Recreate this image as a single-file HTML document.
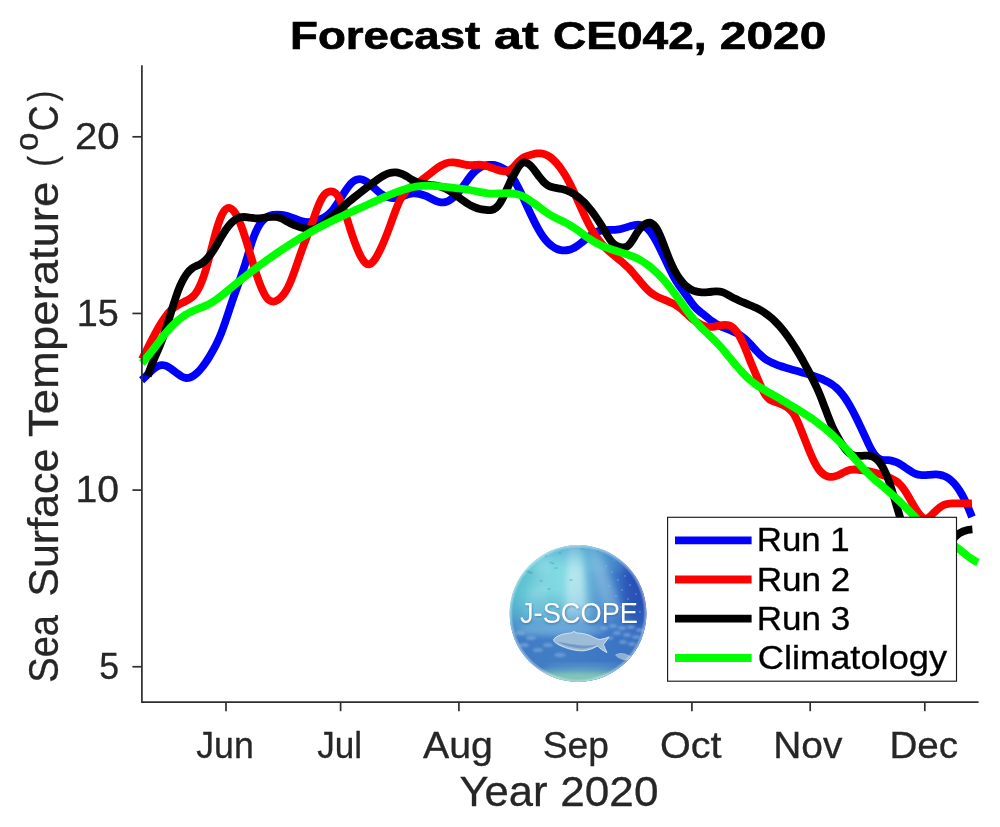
<!DOCTYPE html>
<html><head><meta charset="utf-8"><title>Forecast at CE042, 2020</title>
<style>
html,body{margin:0;padding:0;background:#fff;}
body{width:1000px;height:827px;overflow:hidden;}
svg{display:block;will-change:transform;}
text{font-family:"Liberation Sans",sans-serif;}
</style></head><body>
<svg width="1000" height="827" viewBox="0 0 1000 827">
<defs>
<clipPath id="lgclip"><circle cx="578" cy="613.5" r="68.4"/></clipPath>
<linearGradient id="lgbase" gradientUnits="userSpaceOnUse" x1="509" y1="600" x2="647" y2="600">
<stop offset="0" stop-color="#4fb6cc"/>
<stop offset="0.14" stop-color="#6ed0da"/>
<stop offset="0.36" stop-color="#82dbe2"/>
<stop offset="0.52" stop-color="#78c9de"/>
<stop offset="0.64" stop-color="#589cd2"/>
<stop offset="0.78" stop-color="#3b76c6"/>
<stop offset="0.9" stop-color="#2b58ba"/>
<stop offset="1" stop-color="#2549ae"/>
</linearGradient>
<linearGradient id="lgvert" gradientUnits="userSpaceOnUse" x1="578" y1="545" x2="578" y2="682">
<stop offset="0" stop-color="#3a90c8" stop-opacity="0.6"/>
<stop offset="0.1" stop-color="#52acd4" stop-opacity="0.3"/>
<stop offset="0.22" stop-color="#8fe0e8" stop-opacity="0"/>
<stop offset="0.42" stop-color="#5496d2" stop-opacity="0.15"/>
<stop offset="0.56" stop-color="#4684cc" stop-opacity="0.6"/>
<stop offset="0.68" stop-color="#3b74c4" stop-opacity="0.9"/>
<stop offset="0.88" stop-color="#3d76c2" stop-opacity="0.94"/>
<stop offset="1" stop-color="#4e8ebe" stop-opacity="0.95"/>
</linearGradient>
<linearGradient id="lgleft" gradientUnits="userSpaceOnUse" x1="509" y1="600" x2="600" y2="600">
<stop offset="0" stop-color="#7ad0e0" stop-opacity="0.45"/>
<stop offset="1" stop-color="#7ad0e0" stop-opacity="0"/>
</linearGradient>
<radialGradient id="lgedge" gradientUnits="userSpaceOnUse" cx="578" cy="613.5" r="68.4">
<stop offset="0.95" stop-color="#ffffff" stop-opacity="0"/>
<stop offset="1" stop-color="#ffffff" stop-opacity="0.5"/>
</radialGradient>
<filter id="lgblur3" x="-30%" y="-30%" width="160%" height="160%"><feGaussianBlur stdDeviation="3"/></filter>
<filter id="lgblur5" x="-30%" y="-30%" width="160%" height="160%"><feGaussianBlur stdDeviation="5"/></filter>
<filter id="lgblur1" x="-30%" y="-30%" width="160%" height="160%"><feGaussianBlur stdDeviation="0.8"/></filter>
<filter id="lgblur04" x="-10%" y="-10%" width="120%" height="120%"><feGaussianBlur stdDeviation="0.35"/></filter>
</defs>
<rect x="0" y="0" width="1000" height="827" fill="#ffffff"/>
<g fill="none" stroke-width="7.80" stroke-linecap="butt" stroke-linejoin="round">
<path stroke="#0000ff" d="M141.60,380.26C142.93,379.11 144.26,377.83 145.59,376.53C146.92,375.22 148.25,373.88 149.58,372.60C150.92,371.32 152.25,370.10 153.58,369.03C154.91,367.96 156.24,367.03 157.57,366.35C158.90,365.66 160.23,365.22 161.56,365.10C162.89,364.98 164.22,365.21 165.55,365.69C166.88,366.16 168.22,366.88 169.55,367.74C170.88,368.60 172.21,369.59 173.54,370.62C174.87,371.64 176.20,372.70 177.53,373.69C178.86,374.67 180.19,375.58 181.52,376.31C182.85,377.03 184.18,377.58 185.52,377.84C186.85,378.10 188.18,378.04 189.51,377.68C190.84,377.33 192.17,376.68 193.50,375.79C194.83,374.91 196.16,373.79 197.49,372.49C198.82,371.20 200.15,369.73 201.48,368.10C202.82,366.48 204.15,364.70 205.48,362.78C206.81,360.86 208.14,358.80 209.47,356.62C210.80,354.44 212.13,352.15 213.46,349.71C214.79,347.27 216.12,344.67 217.45,341.84C218.78,339.00 220.12,335.94 221.45,332.57C222.78,329.20 224.11,325.49 225.44,321.58C226.77,317.68 228.10,313.60 229.43,309.54C230.76,305.48 232.09,301.45 233.42,297.61C234.75,293.78 236.08,290.08 237.42,286.40C238.75,282.71 240.08,279.04 241.41,275.24C242.74,271.44 244.07,267.51 245.40,263.32C246.73,259.14 248.06,254.58 249.39,250.13C250.72,245.67 252.05,241.37 253.38,237.75C254.72,234.12 256.05,231.07 257.38,228.51C258.71,225.94 260.04,223.86 261.37,222.17C262.70,220.47 264.03,219.17 265.36,218.16C266.69,217.15 268.02,216.43 269.35,215.92C270.68,215.40 272.02,215.09 273.35,214.88C274.68,214.68 276.01,214.58 277.34,214.59C278.67,214.59 280.00,214.69 281.33,214.87C282.66,215.05 283.99,215.32 285.32,215.64C286.65,215.97 287.98,216.36 289.32,216.80C290.65,217.25 291.98,217.74 293.31,218.24C294.64,218.75 295.97,219.26 297.30,219.74C298.63,220.22 299.96,220.67 301.29,221.03C302.62,221.40 303.95,221.69 305.28,221.86C306.62,222.03 307.95,222.07 309.28,222.00C310.61,221.93 311.94,221.74 313.27,221.47C314.60,221.19 315.93,220.83 317.26,220.39C318.59,219.95 319.92,219.46 321.25,218.85C322.58,218.25 323.92,217.55 325.25,216.69C326.58,215.83 327.91,214.82 329.24,213.61C330.57,212.39 331.90,210.98 333.23,209.32C334.56,207.66 335.89,205.76 337.22,203.74C338.55,201.72 339.88,199.58 341.22,197.44C342.55,195.31 343.88,193.17 345.21,191.16C346.54,189.15 347.87,187.26 349.20,185.61C350.53,183.96 351.86,182.56 353.19,181.52C354.52,180.47 355.85,179.79 357.18,179.42C358.52,179.05 359.85,179.01 361.18,179.25C362.51,179.49 363.84,180.03 365.17,180.78C366.50,181.52 367.83,182.48 369.16,183.55C370.49,184.62 371.82,185.80 373.15,187.01C374.48,188.22 375.82,189.45 377.15,190.62C378.48,191.78 379.81,192.88 381.14,193.82C382.47,194.76 383.80,195.53 385.13,196.16C386.46,196.78 387.79,197.25 389.12,197.57C390.45,197.90 391.78,198.08 393.12,198.13C394.45,198.18 395.78,198.09 397.11,197.88C398.44,197.67 399.77,197.34 401.10,196.90C402.43,196.46 403.76,195.94 405.09,195.43C406.42,194.93 407.75,194.44 409.08,194.08C410.42,193.72 411.75,193.51 413.08,193.43C414.41,193.35 415.74,193.40 417.07,193.56C418.40,193.73 419.73,194.01 421.06,194.37C422.39,194.74 423.72,195.19 425.05,195.72C426.38,196.24 427.72,196.83 429.05,197.47C430.38,198.11 431.71,198.81 433.04,199.47C434.37,200.14 435.70,200.78 437.03,201.29C438.36,201.80 439.69,202.19 441.02,202.35C442.35,202.52 443.68,202.45 445.02,202.14C446.35,201.84 447.68,201.31 449.01,200.58C450.34,199.85 451.67,198.92 453.00,197.81C454.33,196.70 455.66,195.41 456.99,193.97C458.32,192.53 459.65,190.94 460.98,189.22C462.32,187.50 463.65,185.64 464.98,183.75C466.31,181.86 467.64,179.95 468.97,178.15C470.30,176.35 471.63,174.68 472.96,173.24C474.29,171.80 475.62,170.58 476.95,169.55C478.28,168.51 479.62,167.67 480.95,167.00C482.28,166.33 483.61,165.83 484.94,165.47C486.27,165.12 487.60,164.91 488.93,164.83C490.26,164.75 491.59,164.80 492.92,164.96C494.25,165.12 495.58,165.39 496.92,165.77C498.25,166.16 499.58,166.64 500.91,167.24C502.24,167.83 503.57,168.55 504.90,169.47C506.23,170.38 507.56,171.50 508.89,172.90C510.22,174.29 511.55,175.98 512.88,177.99C514.22,180.00 515.55,182.31 516.88,184.81C518.21,187.31 519.54,190.01 520.87,192.80C522.20,195.58 523.53,198.46 524.86,201.36C526.19,204.27 527.52,207.19 528.85,210.08C530.18,212.97 531.52,215.82 532.85,218.57C534.18,221.32 535.51,223.97 536.84,226.46C538.17,228.95 539.50,231.28 540.83,233.38C542.16,235.48 543.49,237.35 544.82,239.00C546.15,240.65 547.48,242.09 548.82,243.35C550.15,244.61 551.48,245.69 552.81,246.61C554.14,247.52 555.47,248.26 556.80,248.84C558.13,249.42 559.46,249.84 560.79,250.10C562.12,250.36 563.45,250.47 564.78,250.43C566.12,250.39 567.45,250.19 568.78,249.86C570.11,249.53 571.44,249.05 572.77,248.44C574.10,247.83 575.43,247.08 576.76,246.21C578.09,245.33 579.42,244.34 580.75,243.29C582.08,242.24 583.42,241.13 584.75,240.02C586.08,238.92 587.41,237.82 588.74,236.78C590.07,235.74 591.40,234.76 592.73,233.91C594.06,233.06 595.39,232.33 596.72,231.78C598.05,231.23 599.38,230.85 600.72,230.58C602.05,230.31 603.38,230.16 604.71,230.07C606.04,229.98 607.37,229.96 608.70,229.95C610.03,229.94 611.36,229.95 612.69,229.92C614.02,229.90 615.35,229.84 616.68,229.69C618.02,229.55 619.35,229.31 620.68,228.99C622.01,228.67 623.34,228.28 624.67,227.87C626.00,227.46 627.33,227.02 628.66,226.60C629.99,226.18 631.32,225.78 632.65,225.45C633.98,225.13 635.32,224.88 636.65,224.79C637.98,224.70 639.31,224.75 640.64,225.03C641.97,225.30 643.30,225.80 644.63,226.58C645.96,227.36 647.29,228.44 648.62,229.86C649.95,231.29 651.28,233.05 652.62,235.07C653.95,237.10 655.28,239.38 656.61,241.85C657.94,244.33 659.27,246.98 660.60,249.73C661.93,252.48 663.26,255.33 664.59,258.18C665.92,261.03 667.25,263.88 668.58,266.66C669.92,269.43 671.25,272.12 672.58,274.64C673.91,277.15 675.24,279.49 676.57,281.59C677.90,283.69 679.23,285.59 680.56,287.42C681.89,289.25 683.22,291.02 684.55,292.85C685.88,294.68 687.22,296.62 688.55,298.55C689.88,300.48 691.21,302.38 692.54,304.10C693.87,305.82 695.20,307.31 696.53,308.61C697.86,309.90 699.19,311.03 700.52,312.09C701.85,313.15 703.18,314.16 704.52,315.22C705.85,316.28 707.18,317.37 708.51,318.43C709.84,319.49 711.17,320.53 712.50,321.49C713.83,322.44 715.16,323.29 716.49,324.05C717.82,324.82 719.15,325.49 720.48,326.11C721.82,326.73 723.15,327.30 724.48,327.84C725.81,328.39 727.14,328.91 728.47,329.45C729.80,329.99 731.13,330.53 732.46,331.13C733.79,331.72 735.12,332.35 736.45,333.06C737.78,333.78 739.12,334.57 740.45,335.46C741.78,336.36 743.11,337.37 744.44,338.52C745.77,339.67 747.10,340.95 748.43,342.30C749.76,343.65 751.09,345.08 752.42,346.52C753.75,347.96 755.08,349.42 756.42,350.83C757.75,352.24 759.08,353.60 760.41,354.87C761.74,356.13 763.07,357.29 764.40,358.29C765.73,359.28 767.06,360.13 768.39,360.88C769.72,361.62 771.05,362.27 772.38,362.86C773.72,363.45 775.05,363.99 776.38,364.51C777.71,365.03 779.04,365.52 780.37,365.99C781.70,366.46 783.03,366.90 784.36,367.33C785.69,367.75 787.02,368.16 788.35,368.55C789.68,368.95 791.02,369.33 792.35,369.70C793.68,370.08 795.01,370.45 796.34,370.81C797.67,371.18 799.00,371.54 800.33,371.91C801.66,372.28 802.99,372.65 804.32,373.04C805.65,373.42 806.98,373.81 808.32,374.22C809.65,374.62 810.98,375.05 812.31,375.49C813.64,375.93 814.97,376.40 816.30,376.88C817.63,377.37 818.96,377.89 820.29,378.44C821.62,378.98 822.95,379.56 824.28,380.18C825.62,380.80 826.95,381.45 828.28,382.18C829.61,382.92 830.94,383.72 832.27,384.64C833.60,385.56 834.93,386.60 836.26,387.78C837.59,388.96 838.92,390.29 840.25,391.80C841.58,393.32 842.92,395.02 844.25,396.88C845.58,398.75 846.91,400.78 848.24,402.97C849.57,405.16 850.90,407.50 852.23,409.98C853.56,412.45 854.89,415.05 856.22,417.75C857.55,420.44 858.88,423.22 860.22,426.05C861.55,428.89 862.88,431.77 864.21,434.68C865.54,437.58 866.87,440.53 868.20,443.34C869.53,446.15 870.86,448.77 872.19,450.96C873.52,453.14 874.85,454.94 876.18,456.34C877.52,457.74 878.85,458.75 880.18,459.36C881.51,459.98 882.84,460.15 884.17,460.18C885.50,460.21 886.83,460.14 888.16,460.23C889.49,460.32 890.82,460.53 892.15,460.85C893.48,461.17 894.82,461.61 896.15,462.16C897.48,462.72 898.81,463.40 900.14,464.18C901.47,464.97 902.80,465.86 904.13,466.77C905.46,467.69 906.79,468.63 908.12,469.54C909.45,470.45 910.78,471.32 912.12,472.07C913.45,472.83 914.78,473.48 916.11,473.96C917.44,474.43 918.77,474.73 920.10,474.91C921.43,475.08 922.76,475.14 924.09,475.12C925.42,475.10 926.75,475.02 928.08,474.91C929.42,474.80 930.75,474.68 932.08,474.58C933.41,474.49 934.74,474.43 936.07,474.45C937.40,474.48 938.73,474.58 940.06,474.83C941.39,475.07 942.72,475.45 944.05,475.99C945.38,476.52 946.72,477.22 948.05,478.09C949.38,478.96 950.71,480.01 952.04,481.27C953.37,482.52 954.70,483.98 956.03,485.66C957.36,487.34 958.69,489.24 960.02,491.39C961.35,493.53 962.68,495.93 964.02,498.59C965.35,501.25 966.68,504.17 968.01,507.27C969.34,510.36 970.67,513.62 972.00,516.95"/>
<path stroke="#ff0000" d="M142.00,359.38C143.33,356.79 144.66,354.14 145.99,351.50C147.32,348.85 148.65,346.20 149.98,343.58C151.31,340.96 152.64,338.37 153.97,335.85C155.30,333.34 156.63,330.88 157.96,328.54C159.29,326.19 160.62,323.95 161.95,321.86C163.28,319.76 164.61,317.81 165.94,316.03C167.27,314.26 168.60,312.66 169.93,311.29C171.26,309.91 172.59,308.75 173.92,307.75C175.25,306.74 176.58,305.88 177.91,305.11C179.24,304.34 180.57,303.66 181.90,302.99C183.23,302.32 184.56,301.67 185.89,300.97C187.22,300.27 188.55,299.52 189.88,298.65C191.21,297.79 192.54,296.81 193.88,295.43C195.21,294.04 196.54,292.20 197.87,289.84C199.20,287.49 200.53,284.63 201.86,281.25C203.19,277.88 204.52,273.98 205.85,269.57C207.18,265.15 208.51,260.19 209.84,255.07C211.17,249.95 212.50,244.67 213.83,239.62C215.16,234.56 216.49,229.72 217.82,225.49C219.15,221.26 220.48,217.67 221.81,214.95C223.14,212.22 224.47,210.30 225.80,209.16C227.13,208.02 228.46,207.66 229.79,207.98C231.12,208.31 232.45,209.33 233.78,210.95C235.11,212.58 236.44,214.82 237.77,217.58C239.10,220.35 240.43,223.64 241.76,227.30C243.09,230.96 244.42,234.99 245.75,239.21C247.08,243.43 248.41,247.85 249.74,252.30C251.07,256.75 252.40,261.23 253.73,265.56C255.06,269.90 256.39,274.10 257.72,277.99C259.05,281.89 260.38,285.47 261.71,288.58C263.04,291.69 264.37,294.33 265.70,296.32C267.03,298.32 268.36,299.69 269.69,300.53C271.02,301.37 272.35,301.68 273.68,301.57C275.01,301.46 276.34,300.93 277.67,300.07C279.00,299.22 280.33,298.05 281.66,296.65C282.99,295.24 284.32,293.56 285.65,291.46C286.98,289.36 288.31,286.79 289.64,283.76C290.97,280.73 292.30,277.28 293.63,273.63C294.96,269.97 296.29,266.10 297.62,262.21C298.96,258.33 300.29,254.43 301.62,250.72C302.95,247.01 304.28,243.50 305.61,240.04C306.94,236.58 308.27,233.17 309.60,229.66C310.93,226.15 312.26,222.48 313.59,218.71C314.92,214.95 316.25,211.16 317.58,207.71C318.91,204.26 320.24,201.15 321.57,198.75C322.90,196.34 324.23,194.67 325.56,193.53C326.89,192.39 328.22,191.75 329.55,191.47C330.88,191.20 332.21,191.27 333.54,191.82C334.87,192.36 336.20,193.46 337.53,195.42C338.86,197.38 340.19,200.12 341.52,203.37C342.85,206.61 344.18,210.37 345.51,214.35C346.84,218.33 348.17,222.54 349.50,226.71C350.83,230.87 352.16,234.97 353.49,238.79C354.82,242.61 356.15,246.18 357.48,249.36C358.81,252.55 360.14,255.36 361.47,257.68C362.80,260.00 364.13,261.82 365.46,262.98C366.79,264.14 368.12,264.60 369.45,264.26C370.78,263.93 372.11,262.86 373.44,261.28C374.77,259.69 376.10,257.59 377.43,255.19C378.76,252.79 380.09,250.12 381.42,247.22C382.75,244.32 384.08,241.20 385.41,237.89C386.74,234.59 388.07,231.11 389.40,227.49C390.73,223.88 392.06,220.11 393.39,216.43C394.72,212.75 396.05,209.17 397.38,205.95C398.71,202.73 400.04,199.90 401.38,197.61C402.71,195.33 404.04,193.52 405.37,192.02C406.70,190.52 408.03,189.33 409.36,188.29C410.69,187.26 412.02,186.35 413.35,185.50C414.68,184.65 416.01,183.86 417.34,183.03C418.67,182.21 420.00,181.35 421.33,180.40C422.66,179.45 423.99,178.44 425.32,177.39C426.65,176.34 427.98,175.25 429.31,174.17C430.64,173.09 431.97,172.02 433.30,170.98C434.63,169.94 435.96,168.94 437.29,168.01C438.62,167.08 439.95,166.23 441.28,165.49C442.61,164.75 443.94,164.11 445.27,163.61C446.60,163.11 447.93,162.74 449.26,162.52C450.59,162.31 451.92,162.27 453.25,162.34C454.58,162.42 455.91,162.61 457.24,162.86C458.57,163.11 459.90,163.42 461.23,163.72C462.56,164.03 463.89,164.35 465.22,164.60C466.55,164.86 467.88,165.06 469.21,165.14C470.54,165.23 471.87,165.18 473.20,165.09C474.53,165.00 475.86,164.86 477.19,164.79C478.52,164.72 479.85,164.73 481.18,164.88C482.51,165.03 483.84,165.31 485.17,165.66C486.50,166.02 487.83,166.45 489.16,166.92C490.49,167.39 491.82,167.90 493.15,168.39C494.48,168.88 495.81,169.36 497.14,169.78C498.47,170.21 499.80,170.58 501.13,170.84C502.46,171.11 503.79,171.28 505.12,171.23C506.46,171.19 507.79,170.93 509.12,170.34C510.45,169.75 511.78,168.79 513.11,167.49C514.44,166.20 515.77,164.63 517.10,163.14C518.43,161.65 519.76,160.26 521.09,159.21C522.42,158.17 523.75,157.41 525.08,156.81C526.41,156.20 527.74,155.76 529.07,155.36C530.40,154.95 531.73,154.56 533.06,154.21C534.39,153.87 535.72,153.58 537.05,153.42C538.38,153.26 539.71,153.23 541.04,153.39C542.37,153.54 543.70,153.87 545.03,154.38C546.36,154.88 547.69,155.56 549.02,156.41C550.35,157.27 551.68,158.29 553.01,159.48C554.34,160.68 555.67,162.05 557.00,163.58C558.33,165.12 559.66,166.82 560.99,168.69C562.32,170.56 563.65,172.60 564.98,174.81C566.31,177.01 567.64,179.38 568.97,181.91C570.30,184.45 571.63,187.16 572.96,189.98C574.29,192.80 575.62,195.73 576.95,198.70C578.28,201.67 579.61,204.68 580.94,207.66C582.27,210.63 583.60,213.57 584.93,216.41C586.26,219.24 587.59,221.97 588.92,224.52C590.25,227.08 591.58,229.43 592.91,231.61C594.24,233.79 595.57,235.79 596.90,237.63C598.23,239.48 599.56,241.18 600.89,242.76C602.22,244.33 603.55,245.79 604.88,247.15C606.21,248.51 607.54,249.78 608.88,250.99C610.21,252.20 611.54,253.35 612.87,254.46C614.20,255.58 615.53,256.67 616.86,257.75C618.19,258.84 619.52,259.92 620.85,261.04C622.18,262.16 623.51,263.30 624.84,264.51C626.17,265.72 627.50,266.99 628.83,268.35C630.16,269.71 631.49,271.17 632.82,272.70C634.15,274.24 635.48,275.83 636.81,277.44C638.14,279.05 639.47,280.67 640.80,282.24C642.13,283.82 643.46,285.36 644.79,286.81C646.12,288.25 647.45,289.61 648.78,290.82C650.11,292.02 651.44,293.08 652.77,293.99C654.10,294.90 655.43,295.69 656.76,296.39C658.09,297.09 659.42,297.71 660.75,298.29C662.08,298.87 663.41,299.41 664.74,299.94C666.07,300.47 667.40,301.00 668.73,301.56C670.06,302.13 671.39,302.72 672.72,303.39C674.05,304.05 675.38,304.79 676.71,305.63C678.04,306.47 679.37,307.42 680.70,308.50C682.03,309.59 683.36,310.79 684.69,312.03C686.02,313.27 687.35,314.55 688.68,315.77C690.01,317.00 691.34,318.15 692.67,319.22C694.00,320.28 695.33,321.26 696.66,322.13C697.99,323.00 699.32,323.77 700.65,324.42C701.98,325.07 703.31,325.60 704.64,326.01C705.97,326.41 707.30,326.68 708.63,326.81C709.96,326.94 711.29,326.91 712.62,326.78C713.96,326.64 715.29,326.40 716.62,326.13C717.95,325.86 719.28,325.55 720.61,325.30C721.94,325.04 723.27,324.84 724.60,324.80C725.93,324.75 727.26,324.87 728.59,325.26C729.92,325.64 731.25,326.29 732.58,327.31C733.91,328.33 735.24,329.74 736.57,331.56C737.90,333.38 739.23,335.60 740.56,338.16C741.89,340.73 743.22,343.66 744.55,346.82C745.88,349.98 747.21,353.34 748.54,356.70C749.87,360.06 751.20,363.37 752.53,366.56C753.86,369.75 755.19,372.87 756.52,375.98C757.85,379.10 759.18,382.28 760.51,385.33C761.84,388.39 763.17,391.25 764.50,393.48C765.83,395.70 767.16,397.28 768.49,398.45C769.82,399.62 771.15,400.38 772.48,400.97C773.81,401.56 775.14,401.97 776.47,402.44C777.80,402.91 779.13,403.41 780.46,403.97C781.79,404.53 783.12,405.15 784.45,405.84C785.78,406.53 787.11,407.27 788.44,408.23C789.77,409.19 791.10,410.39 792.43,412.11C793.76,413.82 795.09,416.13 796.42,418.92C797.75,421.71 799.08,424.92 800.41,428.26C801.74,431.59 803.07,435.03 804.40,438.44C805.73,441.85 807.06,445.24 808.39,448.51C809.72,451.77 811.05,454.92 812.38,457.81C813.71,460.71 815.04,463.37 816.38,465.66C817.71,467.96 819.04,469.87 820.37,471.39C821.70,472.92 823.03,474.07 824.36,474.91C825.69,475.76 827.02,476.29 828.35,476.58C829.68,476.87 831.01,476.91 832.34,476.76C833.67,476.61 835.00,476.28 836.33,475.82C837.66,475.37 838.99,474.78 840.32,474.14C841.65,473.49 842.98,472.79 844.31,472.13C845.64,471.47 846.97,470.86 848.30,470.40C849.63,469.94 850.96,469.66 852.29,469.55C853.62,469.44 854.95,469.48 856.28,469.59C857.61,469.70 858.94,469.88 860.27,470.06C861.60,470.24 862.93,470.41 864.26,470.60C865.59,470.79 866.92,470.99 868.25,471.21C869.58,471.44 870.91,471.70 872.24,472.00C873.57,472.30 874.90,472.63 876.23,472.99C877.56,473.36 878.89,473.75 880.22,474.18C881.55,474.61 882.88,475.07 884.21,475.57C885.54,476.06 886.87,476.58 888.20,477.14C889.53,477.69 890.86,478.26 892.19,478.90C893.52,479.54 894.85,480.27 896.18,481.18C897.51,482.09 898.84,483.19 900.17,484.58C901.50,485.97 902.83,487.68 904.16,489.64C905.49,491.60 906.82,493.78 908.15,496.06C909.48,498.33 910.81,500.70 912.14,503.01C913.47,505.32 914.80,507.57 916.13,509.64C917.46,511.71 918.79,513.58 920.12,515.12C921.46,516.65 922.79,517.83 924.12,518.33C925.45,518.83 926.78,518.57 928.11,517.82C929.44,517.07 930.77,515.85 932.10,514.54C933.43,513.22 934.76,511.84 936.09,510.60C937.42,509.36 938.75,508.22 940.08,507.25C941.41,506.29 942.74,505.49 944.07,504.93C945.40,504.36 946.73,504.01 948.06,503.79C949.39,503.56 950.72,503.46 952.05,503.40C953.38,503.33 954.71,503.30 956.04,503.30C957.37,503.29 958.70,503.30 960.03,503.33C961.36,503.35 962.69,503.38 964.02,503.41C965.35,503.43 966.68,503.46 968.01,503.46C969.34,503.46 970.67,503.45 972.00,503.40"/>
<path stroke="#000000" d="M147.70,376.11C149.03,371.88 150.37,368.20 151.70,364.81C153.04,361.43 154.37,358.34 155.70,355.30C157.04,352.25 158.37,349.26 159.70,346.05C161.04,342.84 162.37,339.40 163.71,335.55C165.04,331.71 166.37,327.53 167.71,323.23C169.04,318.93 170.38,314.50 171.71,310.16C173.04,305.83 174.38,301.57 175.71,297.62C177.04,293.67 178.38,290.03 179.71,286.86C181.05,283.69 182.38,280.94 183.71,278.58C185.05,276.22 186.38,274.24 187.72,272.59C189.05,270.94 190.38,269.62 191.72,268.58C193.05,267.54 194.39,266.81 195.72,266.23C197.05,265.65 198.39,265.19 199.72,264.52C201.05,263.86 202.39,262.97 203.72,261.87C205.06,260.77 206.39,259.46 207.72,257.94C209.06,256.43 210.39,254.71 211.73,252.80C213.06,250.89 214.39,248.77 215.73,246.51C217.06,244.25 218.39,241.88 219.73,239.56C221.06,237.24 222.40,234.98 223.73,232.90C225.06,230.82 226.40,228.90 227.73,227.17C229.07,225.43 230.40,223.89 231.73,222.57C233.07,221.25 234.40,220.16 235.73,219.32C237.07,218.48 238.40,217.91 239.74,217.54C241.07,217.17 242.40,217.01 243.74,216.99C245.07,216.97 246.41,217.09 247.74,217.26C249.07,217.44 250.41,217.68 251.74,217.90C253.07,218.12 254.41,218.31 255.74,218.42C257.08,218.52 258.41,218.50 259.74,218.36C261.08,218.22 262.41,217.98 263.75,217.73C265.08,217.48 266.41,217.24 267.75,217.06C269.08,216.89 270.42,216.78 271.75,216.75C273.08,216.72 274.42,216.78 275.75,216.96C277.08,217.13 278.42,217.42 279.75,217.85C281.09,218.28 282.42,218.86 283.75,219.57C285.09,220.27 286.42,221.08 287.76,221.86C289.09,222.64 290.42,223.37 291.76,224.00C293.09,224.63 294.42,225.18 295.76,225.66C297.09,226.15 298.43,226.58 299.76,226.97C301.09,227.36 302.43,227.72 303.76,228.08C305.10,228.43 306.43,228.78 307.76,229.02C309.10,229.26 310.43,229.39 311.76,229.29C313.10,229.19 314.43,228.86 315.77,228.34C317.10,227.82 318.43,227.12 319.77,226.28C321.10,225.45 322.44,224.47 323.77,223.41C325.10,222.35 326.44,221.21 327.77,220.03C329.10,218.84 330.44,217.63 331.77,216.42C333.11,215.22 334.44,214.03 335.77,212.85C337.11,211.68 338.44,210.51 339.78,209.37C341.11,208.22 342.44,207.09 343.78,205.96C345.11,204.84 346.45,203.73 347.78,202.63C349.11,201.53 350.45,200.44 351.78,199.36C353.11,198.27 354.45,197.20 355.78,196.14C357.12,195.07 358.45,194.01 359.78,192.96C361.12,191.91 362.45,190.87 363.79,189.84C365.12,188.81 366.45,187.78 367.79,186.76C369.12,185.75 370.45,184.74 371.79,183.74C373.12,182.75 374.46,181.75 375.79,180.78C377.12,179.81 378.46,178.86 379.79,177.98C381.13,177.09 382.46,176.27 383.79,175.54C385.13,174.81 386.46,174.18 387.79,173.67C389.13,173.17 390.46,172.80 391.80,172.59C393.13,172.38 394.46,172.33 395.80,172.43C397.13,172.52 398.47,172.77 399.80,173.16C401.13,173.55 402.47,174.09 403.80,174.75C405.13,175.42 406.47,176.23 407.80,177.07C409.14,177.91 410.47,178.78 411.80,179.58C413.14,180.38 414.47,181.09 415.81,181.67C417.14,182.24 418.47,182.70 419.81,183.07C421.14,183.44 422.48,183.73 423.81,183.97C425.14,184.21 426.48,184.39 427.81,184.56C429.14,184.73 430.48,184.88 431.81,185.04C433.15,185.21 434.48,185.38 435.81,185.61C437.15,185.84 438.48,186.11 439.82,186.47C441.15,186.82 442.48,187.26 443.82,187.81C445.15,188.36 446.48,189.02 447.82,189.78C449.15,190.53 450.49,191.37 451.82,192.26C453.15,193.16 454.49,194.11 455.82,195.08C457.16,196.06 458.49,197.06 459.82,198.05C461.16,199.05 462.49,200.04 463.82,200.99C465.16,201.95 466.49,202.86 467.83,203.72C469.16,204.57 470.49,205.35 471.83,206.04C473.16,206.73 474.50,207.32 475.83,207.79C477.16,208.27 478.50,208.65 479.83,208.95C481.16,209.25 482.50,209.49 483.83,209.67C485.17,209.86 486.50,210.02 487.83,210.11C489.17,210.19 490.50,210.16 491.84,209.86C493.17,209.55 494.50,208.96 495.84,207.93C497.17,206.89 498.51,205.35 499.84,203.32C501.17,201.30 502.51,198.82 503.84,196.06C505.17,193.30 506.51,190.23 507.84,187.15C509.18,184.07 510.51,181.01 511.84,178.41C513.18,175.81 514.51,173.66 515.85,171.39C517.18,169.12 518.51,166.75 519.85,165.13C521.18,163.51 522.51,162.68 523.85,162.46C525.18,162.25 526.52,162.64 527.85,163.46C529.18,164.28 530.52,165.53 531.85,167.02C533.19,168.52 534.52,170.26 535.85,172.06C537.19,173.86 538.52,175.72 539.85,177.46C541.19,179.21 542.52,180.83 543.86,182.15C545.19,183.47 546.52,184.48 547.86,185.26C549.19,186.04 550.53,186.60 551.86,187.02C553.19,187.44 554.53,187.72 555.86,187.96C557.19,188.19 558.53,188.38 559.86,188.60C561.20,188.83 562.53,189.10 563.86,189.48C565.20,189.85 566.53,190.31 567.87,190.87C569.20,191.42 570.53,192.06 571.87,192.80C573.20,193.54 574.54,194.37 575.87,195.31C577.20,196.24 578.54,197.27 579.87,198.40C581.20,199.53 582.54,200.76 583.87,202.10C585.21,203.44 586.54,204.89 587.87,206.43C589.21,207.98 590.54,209.62 591.88,211.36C593.21,213.10 594.54,214.94 595.88,216.87C597.21,218.80 598.54,220.81 599.88,222.92C601.21,225.02 602.55,227.21 603.88,229.49C605.21,231.76 606.55,234.12 607.88,236.29C609.22,238.47 610.55,240.47 611.88,242.00C613.22,243.54 614.55,244.61 615.88,245.38C617.22,246.15 618.55,246.62 619.89,246.96C621.22,247.30 622.55,247.52 623.89,247.40C625.22,247.28 626.56,246.82 627.89,245.80C629.22,244.79 630.56,243.12 631.89,241.09C633.22,239.06 634.56,236.71 635.89,234.52C637.23,232.33 638.56,230.35 639.89,228.73C641.23,227.11 642.56,225.80 643.90,224.83C645.23,223.86 646.56,223.22 647.90,222.94C649.23,222.65 650.57,222.72 651.90,223.39C653.23,224.06 654.57,225.41 655.90,227.45C657.23,229.49 658.57,232.15 659.90,235.18C661.24,238.20 662.57,241.59 663.90,245.07C665.24,248.56 666.57,252.14 667.91,255.56C669.24,258.97 670.57,262.19 671.91,265.08C673.24,267.98 674.57,270.58 675.91,272.91C677.24,275.25 678.58,277.32 679.91,279.15C681.24,280.98 682.58,282.56 683.91,283.94C685.25,285.31 686.58,286.48 687.91,287.46C689.25,288.44 690.58,289.24 691.91,289.89C693.25,290.53 694.58,291.03 695.92,291.39C697.25,291.76 698.58,292.01 699.92,292.16C701.25,292.31 702.59,292.37 703.92,292.36C705.25,292.35 706.59,292.27 707.92,292.16C709.25,292.05 710.59,291.90 711.92,291.75C713.26,291.60 714.59,291.44 715.92,291.38C717.26,291.32 718.59,291.35 719.93,291.56C721.26,291.77 722.59,292.19 723.93,292.77C725.26,293.36 726.60,294.09 727.93,294.84C729.26,295.60 730.60,296.36 731.93,297.07C733.26,297.78 734.60,298.45 735.93,299.10C737.27,299.74 738.60,300.35 739.93,300.94C741.27,301.53 742.60,302.09 743.94,302.65C745.27,303.20 746.60,303.75 747.94,304.30C749.27,304.85 750.60,305.41 751.94,305.99C753.27,306.57 754.61,307.17 755.94,307.81C757.27,308.45 758.61,309.13 759.94,309.86C761.28,310.59 762.61,311.38 763.94,312.24C765.28,313.09 766.61,314.02 767.94,315.03C769.28,316.04 770.61,317.14 771.95,318.33C773.28,319.53 774.61,320.81 775.95,322.19C777.28,323.56 778.62,325.02 779.95,326.57C781.28,328.11 782.62,329.74 783.95,331.45C785.28,333.15 786.62,334.94 787.95,336.80C789.29,338.66 790.62,340.60 791.95,342.61C793.29,344.62 794.62,346.70 795.96,348.85C797.29,350.99 798.62,353.21 799.96,355.49C801.29,357.76 802.63,360.10 803.96,362.51C805.29,364.91 806.63,367.38 807.96,369.91C809.29,372.45 810.63,375.05 811.96,377.71C813.30,380.37 814.63,383.10 815.96,385.97C817.30,388.83 818.63,391.84 819.97,395.04C821.30,398.25 822.63,401.71 823.97,405.27C825.30,408.82 826.63,412.45 827.97,415.94C829.30,419.42 830.64,422.75 831.97,425.74C833.30,428.72 834.64,431.40 835.97,433.89C837.31,436.39 838.64,438.69 839.97,440.91C841.31,443.13 842.64,445.25 843.97,447.12C845.31,448.99 846.64,450.63 847.98,451.90C849.31,453.17 850.64,454.07 851.98,454.69C853.31,455.31 854.65,455.65 855.98,455.83C857.31,456.01 858.65,456.01 859.98,455.95C861.31,455.88 862.65,455.75 863.98,455.66C865.32,455.57 866.65,455.51 867.98,455.59C869.32,455.67 870.65,455.89 871.99,456.35C873.32,456.81 874.65,457.52 875.99,458.57C877.32,459.62 878.66,461.02 879.99,462.84C881.32,464.67 882.66,466.89 883.99,469.54C885.32,472.18 886.66,475.24 887.99,478.72C889.33,482.21 890.66,486.17 891.99,490.44C893.33,494.72 894.66,499.27 896.00,503.78C897.33,508.28 898.66,512.75 900.00,517.12C901.33,521.50 902.66,525.79 904.00,529.95C905.33,534.11 906.67,538.14 908.00,542.01"/>
<path stroke="#00ff00" d="M141.80,363.01C143.13,361.63 144.47,360.16 145.80,358.61C147.13,357.05 148.47,355.43 149.80,353.75C151.14,352.07 152.47,350.35 153.80,348.60C155.14,346.85 156.47,345.09 157.80,343.33C159.14,341.56 160.47,339.81 161.80,338.09C163.14,336.37 164.47,334.68 165.81,333.05C167.14,331.42 168.47,329.85 169.81,328.38C171.14,326.90 172.47,325.51 173.81,324.20C175.14,322.90 176.47,321.68 177.81,320.54C179.14,319.40 180.48,318.35 181.81,317.37C183.14,316.39 184.48,315.49 185.81,314.66C187.14,313.83 188.48,313.07 189.81,312.38C191.15,311.69 192.48,311.08 193.81,310.50C195.15,309.92 196.48,309.38 197.81,308.85C199.15,308.33 200.48,307.81 201.81,307.28C203.15,306.74 204.48,306.19 205.82,305.59C207.15,304.98 208.48,304.33 209.82,303.61C211.15,302.88 212.48,302.07 213.82,301.20C215.15,300.33 216.48,299.40 217.82,298.42C219.15,297.44 220.49,296.42 221.82,295.36C223.15,294.31 224.49,293.23 225.82,292.14C227.15,291.05 228.49,289.94 229.82,288.84C231.15,287.75 232.49,286.65 233.82,285.57C235.16,284.49 236.49,283.41 237.82,282.34C239.16,281.27 240.49,280.20 241.82,279.14C243.16,278.09 244.49,277.04 245.82,276.00C247.16,274.95 248.49,273.92 249.83,272.89C251.16,271.86 252.49,270.85 253.83,269.83C255.16,268.82 256.49,267.82 257.83,266.82C259.16,265.83 260.50,264.84 261.83,263.86C263.16,262.88 264.50,261.91 265.83,260.95C267.16,259.98 268.50,259.03 269.83,258.08C271.16,257.14 272.50,256.20 273.83,255.28C275.17,254.35 276.50,253.43 277.83,252.52C279.17,251.61 280.50,250.71 281.83,249.82C283.17,248.93 284.50,248.05 285.83,247.17C287.17,246.30 288.50,245.44 289.84,244.59C291.17,243.74 292.50,242.89 293.84,242.06C295.17,241.23 296.50,240.40 297.84,239.59C299.17,238.78 300.50,237.97 301.84,237.18C303.17,236.39 304.51,235.60 305.84,234.83C307.17,234.06 308.51,233.29 309.84,232.54C311.17,231.78 312.51,231.04 313.84,230.30C315.17,229.57 316.51,228.84 317.84,228.12C319.18,227.41 320.51,226.70 321.84,226.00C323.18,225.31 324.51,224.62 325.84,223.94C327.18,223.26 328.51,222.59 329.84,221.94C331.18,221.28 332.51,220.63 333.85,219.99C335.18,219.35 336.51,218.71 337.85,218.09C339.18,217.46 340.51,216.84 341.85,216.23C343.18,215.61 344.52,215.01 345.85,214.40C347.18,213.80 348.52,213.20 349.85,212.60C351.18,212.00 352.52,211.41 353.85,210.82C355.18,210.22 356.52,209.63 357.85,209.04C359.19,208.45 360.52,207.85 361.85,207.26C363.19,206.67 364.52,206.07 365.85,205.48C367.19,204.88 368.52,204.28 369.85,203.67C371.19,203.07 372.52,202.46 373.86,201.85C375.19,201.24 376.52,200.63 377.86,200.03C379.19,199.42 380.52,198.82 381.86,198.22C383.19,197.62 384.52,197.03 385.86,196.45C387.19,195.87 388.53,195.30 389.86,194.75C391.19,194.19 392.53,193.65 393.86,193.12C395.19,192.60 396.53,192.09 397.86,191.61C399.19,191.12 400.53,190.66 401.86,190.22C403.20,189.78 404.53,189.37 405.86,188.98C407.20,188.59 408.53,188.24 409.86,187.91C411.20,187.59 412.53,187.29 413.87,187.04C415.20,186.78 416.53,186.56 417.87,186.38C419.20,186.19 420.53,186.05 421.87,185.95C423.20,185.85 424.53,185.79 425.87,185.76C427.20,185.73 428.54,185.73 429.87,185.76C431.20,185.79 432.54,185.85 433.87,185.92C435.20,186.00 436.54,186.09 437.87,186.20C439.20,186.32 440.54,186.44 441.87,186.57C443.21,186.71 444.54,186.85 445.87,186.99C447.21,187.14 448.54,187.28 449.87,187.43C451.21,187.57 452.54,187.71 453.87,187.85C455.21,187.99 456.54,188.13 457.88,188.28C459.21,188.43 460.54,188.58 461.88,188.75C463.21,188.92 464.54,189.11 465.88,189.31C467.21,189.51 468.54,189.73 469.88,189.98C471.21,190.23 472.55,190.50 473.88,190.78C475.21,191.06 476.55,191.36 477.88,191.64C479.21,191.92 480.55,192.20 481.88,192.45C483.21,192.70 484.55,192.93 485.88,193.11C487.22,193.30 488.55,193.44 489.88,193.53C491.22,193.62 492.55,193.64 493.88,193.64C495.22,193.63 496.55,193.58 497.89,193.52C499.22,193.47 500.55,193.39 501.89,193.33C503.22,193.27 504.55,193.21 505.89,193.19C507.22,193.17 508.55,193.18 509.89,193.24C511.22,193.31 512.56,193.43 513.89,193.62C515.22,193.82 516.56,194.10 517.89,194.47C519.22,194.84 520.56,195.32 521.89,195.91C523.22,196.49 524.56,197.18 525.89,197.95C527.23,198.71 528.56,199.55 529.89,200.44C531.23,201.33 532.56,202.28 533.89,203.25C535.23,204.22 536.56,205.22 537.89,206.23C539.23,207.23 540.56,208.24 541.90,209.23C543.23,210.22 544.56,211.19 545.90,212.11C547.23,213.04 548.56,213.92 549.90,214.73C551.23,215.54 552.56,216.28 553.90,216.98C555.23,217.68 556.57,218.34 557.90,218.98C559.23,219.62 560.57,220.25 561.90,220.89C563.23,221.52 564.57,222.17 565.90,222.86C567.24,223.55 568.57,224.28 569.90,225.07C571.24,225.87 572.57,226.73 573.90,227.64C575.24,228.54 576.57,229.49 577.90,230.46C579.24,231.43 580.57,232.42 581.91,233.40C583.24,234.39 584.57,235.37 585.91,236.32C587.24,237.28 588.57,238.20 589.91,239.08C591.24,239.95 592.57,240.77 593.91,241.55C595.24,242.32 596.58,243.05 597.91,243.74C599.24,244.42 600.58,245.06 601.91,245.67C603.24,246.27 604.58,246.84 605.91,247.37C607.24,247.90 608.58,248.40 609.91,248.87C611.25,249.34 612.58,249.78 613.91,250.21C615.25,250.63 616.58,251.04 617.91,251.44C619.25,251.85 620.58,252.25 621.91,252.65C623.25,253.06 624.58,253.48 625.92,253.92C627.25,254.36 628.58,254.82 629.92,255.31C631.25,255.80 632.58,256.33 633.92,256.90C635.25,257.48 636.59,258.10 637.92,258.78C639.25,259.46 640.59,260.20 641.92,261.00C643.25,261.81 644.59,262.68 645.92,263.62C647.25,264.56 648.59,265.56 649.92,266.63C651.26,267.70 652.59,268.83 653.92,270.03C655.26,271.22 656.59,272.49 657.92,273.81C659.26,275.14 660.59,276.53 661.92,277.99C663.26,279.44 664.59,280.96 665.93,282.53C667.26,284.10 668.59,285.73 669.93,287.40C671.26,289.07 672.59,290.80 673.93,292.56C675.26,294.32 676.59,296.13 677.93,297.97C679.26,299.81 680.60,301.69 681.93,303.58C683.26,305.48 684.60,307.38 685.93,309.24C687.26,311.10 688.60,312.91 689.93,314.64C691.26,316.36 692.60,318.00 693.93,319.56C695.27,321.11 696.60,322.60 697.93,324.02C699.27,325.45 700.60,326.82 701.93,328.15C703.27,329.48 704.60,330.77 705.93,332.05C707.27,333.33 708.60,334.59 709.94,335.87C711.27,337.15 712.60,338.44 713.94,339.76C715.27,341.08 716.60,342.44 717.94,343.86C719.27,345.28 720.61,346.76 721.94,348.30C723.27,349.85 724.61,351.45 725.94,353.07C727.27,354.69 728.61,356.33 729.94,357.97C731.27,359.60 732.61,361.23 733.94,362.83C735.28,364.42 736.61,366.00 737.94,367.53C739.28,369.06 740.61,370.55 741.94,371.99C743.28,373.43 744.61,374.81 745.94,376.12C747.28,377.44 748.61,378.68 749.95,379.84C751.28,380.99 752.61,382.07 753.95,383.07C755.28,384.08 756.61,385.01 757.95,385.90C759.28,386.79 760.61,387.63 761.95,388.44C763.28,389.25 764.62,390.03 765.95,390.79C767.28,391.56 768.62,392.31 769.95,393.07C771.28,393.83 772.62,394.59 773.95,395.36C775.28,396.13 776.62,396.90 777.95,397.68C779.29,398.46 780.62,399.24 781.95,400.03C783.29,400.82 784.62,401.61 785.95,402.40C787.29,403.19 788.62,403.99 789.96,404.79C791.29,405.59 792.62,406.39 793.96,407.20C795.29,408.00 796.62,408.81 797.96,409.63C799.29,410.46 800.62,411.29 801.96,412.13C803.29,412.97 804.63,413.82 805.96,414.69C807.29,415.56 808.63,416.45 809.96,417.35C811.29,418.26 812.63,419.18 813.96,420.12C815.29,421.07 816.63,422.04 817.96,423.03C819.30,424.02 820.63,425.04 821.96,426.08C823.30,427.13 824.63,428.21 825.96,429.31C827.30,430.42 828.63,431.56 829.96,432.74C831.30,433.91 832.63,435.12 833.97,436.37C835.30,437.62 836.63,438.91 837.97,440.24C839.30,441.57 840.63,442.94 841.97,444.36C843.30,445.77 844.63,447.24 845.97,448.73C847.30,450.23 848.64,451.75 849.97,453.29C851.30,454.83 852.64,456.38 853.97,457.92C855.30,459.47 856.64,461.02 857.97,462.54C859.30,464.06 860.64,465.57 861.97,467.03C863.31,468.50 864.64,469.92 865.97,471.31C867.31,472.69 868.64,474.03 869.97,475.31C871.31,476.59 872.64,477.82 873.98,478.99C875.31,480.17 876.64,481.30 877.98,482.41C879.31,483.53 880.64,484.62 881.98,485.74C883.31,486.85 884.64,487.98 885.98,489.12C887.31,490.27 888.65,491.43 889.98,492.61C891.31,493.79 892.65,494.99 893.98,496.20C895.31,497.42 896.65,498.65 897.98,499.90C899.31,501.15 900.65,502.42 901.98,503.71C903.32,505.00 904.65,506.30 905.98,507.63C907.32,508.95 908.65,510.30 909.98,511.66C911.32,513.02 912.65,514.41 913.98,515.80C915.32,517.20 916.65,518.60 917.99,519.97C919.32,521.34 920.65,522.69 921.99,523.96C923.32,525.24 924.65,526.45 925.99,527.57C927.32,528.69 928.65,529.72 929.99,530.69C931.32,531.66 932.66,532.56 933.99,533.42C935.32,534.28 936.66,535.09 937.99,535.88C939.32,536.66 940.66,537.43 941.99,538.18C943.33,538.94 944.66,539.69 945.99,540.45C947.33,541.22 948.66,541.99 949.99,542.81C951.33,543.62 952.66,544.47 953.99,545.37C955.33,546.27 956.66,547.23 958.00,548.25C959.33,549.27 960.66,550.34 962.00,551.42C963.33,552.51 964.66,553.61 966.00,554.68C967.33,555.75 968.66,556.79 970.00,557.77C971.33,558.74 972.67,559.66 974.00,560.46C975.33,561.27 976.67,561.97 978.00,562.53"/>
<path stroke="#000000" d="M946,552 C952,538 958,530.6 972.4,529.4"/>
</g>
<g stroke="#2e2e2e" stroke-width="1.7" fill="none" stroke-linecap="square">
<path d="M141.90,66.05 V702.05 H977.75"/>
</g>
<g stroke="#2e2e2e" stroke-width="1.7" fill="none" stroke-linecap="butt">
<path d="M132.40,136.80 H141.90"/>
<path d="M132.40,313.45 H141.90"/>
<path d="M132.40,490.10 H141.90"/>
<path d="M132.40,666.75 H141.90"/>
<path d="M226.00,702.05 V711.20"/>
<path d="M340.60,702.05 V711.20"/>
<path d="M458.90,702.05 V711.20"/>
<path d="M577.30,702.05 V711.20"/>
<path d="M691.90,702.05 V711.20"/>
<path d="M810.20,702.05 V711.20"/>
<path d="M924.80,702.05 V711.20"/>
</g>
<text x="290.14" y="49.10" font-size="38.70" font-weight="bold" fill="#000000" stroke="#000000" stroke-width="0.70" text-anchor="start" textLength="190.13" lengthAdjust="spacingAndGlyphs">Forecast</text>
<text x="494.14" y="49.10" font-size="38.70" font-weight="bold" fill="#000000" stroke="#000000" stroke-width="0.70" text-anchor="start" textLength="44.67" lengthAdjust="spacingAndGlyphs">at</text>
<text x="553.11" y="49.10" font-size="38.70" font-weight="bold" fill="#000000" stroke="#000000" stroke-width="0.70" text-anchor="start" textLength="153.44" lengthAdjust="spacingAndGlyphs">CE042,</text>
<text x="719.82" y="49.10" font-size="38.70" font-weight="bold" fill="#000000" stroke="#000000" stroke-width="0.70" text-anchor="start" textLength="106.57" lengthAdjust="spacingAndGlyphs">2020</text>
<text x="196.23" y="757.50" font-size="37.00" font-weight="normal" fill="#262626" stroke="#262626" stroke-width="0.30" text-anchor="start" textLength="57.50" lengthAdjust="spacingAndGlyphs">Jun</text>
<text x="317.24" y="757.50" font-size="37.00" font-weight="normal" fill="#262626" stroke="#262626" stroke-width="0.30" text-anchor="start" textLength="44.93" lengthAdjust="spacingAndGlyphs">Jul</text>
<text x="423.02" y="757.50" font-size="37.00" font-weight="normal" fill="#262626" stroke="#262626" stroke-width="0.30" text-anchor="start" textLength="69.91" lengthAdjust="spacingAndGlyphs">Aug</text>
<text x="542.79" y="757.50" font-size="37.00" font-weight="normal" fill="#262626" stroke="#262626" stroke-width="0.30" text-anchor="start" textLength="66.18" lengthAdjust="spacingAndGlyphs">Sep</text>
<text x="659.94" y="757.50" font-size="37.00" font-weight="normal" fill="#262626" stroke="#262626" stroke-width="0.30" text-anchor="start" textLength="61.63" lengthAdjust="spacingAndGlyphs">Oct</text>
<text x="773.21" y="757.50" font-size="37.00" font-weight="normal" fill="#262626" stroke="#262626" stroke-width="0.30" text-anchor="start" textLength="69.16" lengthAdjust="spacingAndGlyphs">Nov</text>
<text x="889.43" y="757.50" font-size="37.00" font-weight="normal" fill="#262626" stroke="#262626" stroke-width="0.30" text-anchor="start" textLength="68.68" lengthAdjust="spacingAndGlyphs">Dec</text>
<text x="74.99" y="149.20" font-size="37.00" font-weight="normal" fill="#262626" stroke="#262626" stroke-width="0.30" text-anchor="start" textLength="44.69" lengthAdjust="spacingAndGlyphs">20</text>
<text x="76.73" y="326.20" font-size="37.00" font-weight="normal" fill="#262626" stroke="#262626" stroke-width="0.30" text-anchor="start" textLength="42.08" lengthAdjust="spacingAndGlyphs">15</text>
<text x="75.42" y="502.40" font-size="37.00" font-weight="normal" fill="#262626" stroke="#262626" stroke-width="0.30" text-anchor="start" textLength="43.62" lengthAdjust="spacingAndGlyphs">10</text>
<text x="99.17" y="679.00" font-size="37.00" font-weight="normal" fill="#262626" stroke="#262626" stroke-width="0.30" text-anchor="start" textLength="19.83" lengthAdjust="spacingAndGlyphs">5</text>
<text x="459.54" y="806.00" font-size="42.40" font-weight="normal" fill="#262626" stroke="#262626" stroke-width="0.30" text-anchor="start" textLength="88.08" lengthAdjust="spacingAndGlyphs">Year</text>
<text x="560.29" y="806.00" font-size="42.40" font-weight="normal" fill="#262626" stroke="#262626" stroke-width="0.30" text-anchor="start" textLength="98.15" lengthAdjust="spacingAndGlyphs">2020</text>
<g transform="rotate(-90)">
<text x="-682.75" y="57.50" font-size="42.40" font-weight="normal" fill="#262626" stroke="#262626" stroke-width="0.30" text-anchor="start" textLength="67.76" lengthAdjust="spacingAndGlyphs">Sea</text>
<text x="-596.68" y="57.50" font-size="42.40" font-weight="normal" fill="#262626" stroke="#262626" stroke-width="0.30" text-anchor="start" textLength="147.98" lengthAdjust="spacingAndGlyphs">Surface</text>
<text x="-437.00" y="57.50" font-size="42.40" font-weight="normal" fill="#262626" stroke="#262626" stroke-width="0.30" text-anchor="start" textLength="255.29" lengthAdjust="spacingAndGlyphs">Temperature</text>
<text x="-166.64" y="54.60" font-size="38.00" font-weight="normal" fill="#262626" stroke="#262626" stroke-width="0.30" text-anchor="start" textLength="10.93" lengthAdjust="spacingAndGlyphs">(</text>
<text x="-150.77" y="38.00" font-size="33.00" font-weight="normal" fill="#262626" stroke="#262626" stroke-width="0.30" text-anchor="start" textLength="18.15" lengthAdjust="spacingAndGlyphs">o</text>
<text x="-131.13" y="57.50" font-size="42.40" font-weight="normal" fill="#262626" stroke="#262626" stroke-width="0.30" text-anchor="start" textLength="25.90" lengthAdjust="spacingAndGlyphs">C</text>
<text x="-101.19" y="54.60" font-size="38.00" font-weight="normal" fill="#262626" stroke="#262626" stroke-width="0.30" text-anchor="start" textLength="10.30" lengthAdjust="spacingAndGlyphs">)</text>
</g>
<g clip-path="url(#lgclip)">
<rect x="505" y="540" width="150" height="148" fill="url(#lgbase)"/>
<!-- light rays -->
<g filter="url(#lgblur3)" fill="#e2fafa">
<polygon points="568,540 581,540 588,624 564,624" opacity="0.55"/>
<polygon points="586,540 596,540 624,614 606,618" opacity="0.26"/>
<polygon points="542,540 553,540 544,624 524,624" opacity="0.2"/>
</g>
<rect x="505" y="540" width="150" height="148" fill="url(#lgvert)"/>
<ellipse cx="532" cy="578" rx="16" ry="10" fill="#3fa0bc" opacity="0.22" filter="url(#lgblur5)"/>
<ellipse cx="545" cy="604" rx="22" ry="8" fill="#3f9cc0" opacity="0.2" filter="url(#lgblur5)"/>
<!-- deep blue right side -->
<ellipse cx="642" cy="588" rx="20" ry="40" fill="#2446b2" opacity="0.5" filter="url(#lgblur5)"/>
<g fill="#a8cdf0" opacity="0.35" filter="url(#lgblur04)">
<circle cx="612" cy="572" r="1"/><circle cx="618" cy="580" r="1.1"/><circle cx="625" cy="576" r="0.9"/><circle cx="622" cy="590" r="1.1"/>
<circle cx="630" cy="585" r="1"/><circle cx="616" cy="596" r="1"/><circle cx="628" cy="599" r="1.1"/><circle cx="636" cy="594" r="0.9"/>
<circle cx="609" cy="586" r="0.9"/><circle cx="634" cy="606" r="1"/><circle cx="621" cy="607" r="1"/><circle cx="640" cy="612" r="0.9"/>
<circle cx="606" cy="566" r="0.9"/><circle cx="614" cy="560" r="0.8"/><circle cx="627" cy="566" r="0.9"/>
</g>
<!-- haze below text -->
<ellipse cx="560" cy="630" rx="44" ry="6" fill="#8cc0e4" opacity="0.45" filter="url(#lgblur3)"/>
<!-- school of fish patches -->
<g filter="url(#lgblur1)" fill="#94b8e2" opacity="0.5">
<ellipse cx="604" cy="628" rx="4" ry="2"/><ellipse cx="613" cy="626" rx="4" ry="2"/><ellipse cx="622" cy="628" rx="4" ry="2"/>
<ellipse cx="631" cy="627" rx="4" ry="2"/><ellipse cx="640" cy="630" rx="4" ry="2"/><ellipse cx="617" cy="633" rx="4" ry="2"/>
<ellipse cx="627" cy="635" rx="4" ry="2"/><ellipse cx="636" cy="637" rx="4" ry="2"/><ellipse cx="623" cy="642" rx="4" ry="2"/>
<ellipse cx="632" cy="644" rx="4" ry="2"/><ellipse cx="610" cy="638" rx="3.5" ry="1.8"/>
<ellipse cx="520" cy="633" rx="5" ry="2"/><ellipse cx="531" cy="638" rx="5" ry="2"/><ellipse cx="524" cy="645" rx="5" ry="2"/>
<ellipse cx="538" cy="650" rx="5" ry="2"/><ellipse cx="548" cy="645" rx="5" ry="2"/><ellipse cx="560" cy="655" rx="6" ry="2.2"/>
</g>
<!-- sea floor -->
<ellipse cx="578" cy="677" rx="52" ry="6" fill="#86ccb8" opacity="0.95" filter="url(#lgblur3)"/>
<ellipse cx="585" cy="667" rx="40" ry="3" fill="#6fb0d2" opacity="0.55" filter="url(#lgblur3)"/>
<!-- main fish -->
<g filter="url(#lgblur04)">
<path d="M553.5,639.5 C556,636 563,633.5 571,633 L574,631.5 L577,633 C582,633.2 586,634 590,635.5 C594,637.5 597,639 600,639.5 C603,639 606,638 609,637.2 C606.5,640.5 605,642.5 603.5,644.5 C604.5,647.5 605.5,650 607,652.5 C603.5,651 600,648.5 597.5,646 C593,648.5 588,650.5 583,650.8 C574,651 563,647.5 556.5,643.5 C554.5,642.3 553.5,641 553.5,639.5 Z" fill="#9dbcd8" stroke="#d8eaf4" stroke-width="0.9"/>
<path d="M557,641.5 C565,646 575,648.5 584,648.5 C590,648 594,646.5 597,644.5 C592,645.5 585,646 578,645 C570,644 562,642.5 557,641.5 Z" fill="#6a90c2" opacity="0.8"/>
<path d="M615.5,655 C619,652.8 624,653 628.5,655.5 L633,658.5 L629.5,659.5 C625,660.5 619,659 615.5,655 Z" fill="#8fb0d0" stroke="#c0d8ea" stroke-width="0.5"/>
</g>
<!-- surface speckles upper-left -->
<g fill="#3f9fb4" opacity="0.5" filter="url(#lgblur04)">
<ellipse cx="529" cy="572" rx="4" ry="1.3" transform="rotate(18 529 572)"/>
<ellipse cx="552" cy="563" rx="2.5" ry="0.9" transform="rotate(15 552 563)"/>
<ellipse cx="546" cy="556" rx="2" ry="0.8"/><ellipse cx="560" cy="553" rx="2" ry="0.8"/>
<ellipse cx="556" cy="568" rx="2" ry="0.8"/><ellipse cx="541" cy="581" rx="2.2" ry="0.8"/>
<ellipse cx="549" cy="589" rx="2.2" ry="0.8"/><ellipse cx="571" cy="580" rx="2" ry="0.7"/>
<ellipse cx="582" cy="549" rx="2" ry="0.7"/><ellipse cx="598" cy="551" rx="2" ry="0.7"/>
</g>
<circle cx="578" cy="613.5" r="68.4" fill="url(#lgedge)"/>
</g>
<text x="520.6" y="623.8" font-size="30" fill="#1c3c78" opacity="0.45" textLength="118" lengthAdjust="spacingAndGlyphs" filter="url(#lgblur1)">J-SCOPE</text>
<text x="520" y="623" font-size="30" fill="#ffffff" textLength="118" lengthAdjust="spacingAndGlyphs">J-SCOPE</text>
<rect x="667.60" y="517.30" width="288.90" height="163.90" fill="#ffffff" stroke="#1a1a1a" stroke-width="1.15"/>
<path d="M675,540.40 H751.6" stroke="#0000ff" stroke-width="7.80" fill="none"/>
<path d="M675,579.50 H751.6" stroke="#ff0000" stroke-width="7.80" fill="none"/>
<path d="M675,618.70 H751.6" stroke="#000000" stroke-width="7.80" fill="none"/>
<path d="M675,658.00 H751.6" stroke="#00ff00" stroke-width="7.80" fill="none"/>
<text x="756.74" y="551.40" font-size="32.50" font-weight="normal" fill="#000000" stroke="#000000" stroke-width="0.30" text-anchor="start" textLength="92.98" lengthAdjust="spacingAndGlyphs">Run 1</text>
<text x="756.72" y="591.00" font-size="32.50" font-weight="normal" fill="#000000" stroke="#000000" stroke-width="0.30" text-anchor="start" textLength="93.65" lengthAdjust="spacingAndGlyphs">Run 2</text>
<text x="756.73" y="630.00" font-size="32.50" font-weight="normal" fill="#000000" stroke="#000000" stroke-width="0.30" text-anchor="start" textLength="93.43" lengthAdjust="spacingAndGlyphs">Run 3</text>
<text x="757.75" y="669.00" font-size="32.50" font-weight="normal" fill="#000000" stroke="#000000" stroke-width="0.30" text-anchor="start" textLength="189.33" lengthAdjust="spacingAndGlyphs">Climatology</text>
</svg>
</body></html>
